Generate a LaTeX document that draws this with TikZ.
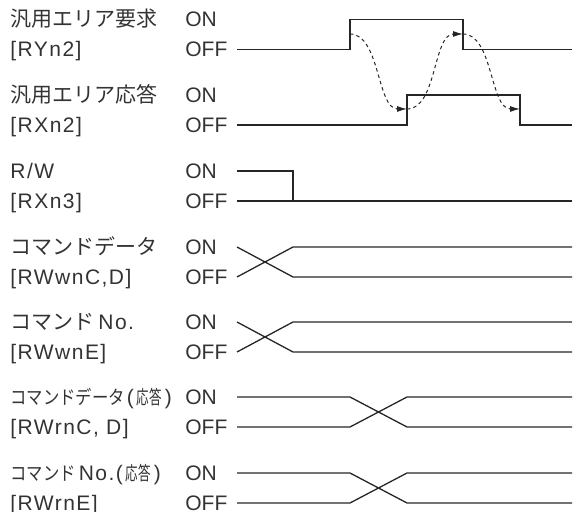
\documentclass[tikz,border=0pt]{standalone}
\usepackage{fontspec}
\usepackage{graphicx}
\setmainfont{Liberation Sans}
\newfontfamily\labelfont{Liberation Sans}[LetterSpace=7]
\newfontfamily\jpfont{Noto Sans CJK JP}
\newcommand\jpn{\jpfont\fontsize{10.5}{12}\selectfont}
\newcommand\jps{\jpfont\fontsize{9.5}{11}\selectfont}
\newcommand\narrowjp[2]{\scalebox{#1}[1]{\jps #2}}
\usetikzlibrary{arrows.meta}

\begin{document}
\begin{tikzpicture}[
  x=0.5pt, y=-0.5pt,
  >={Latex[length=5pt,width=3pt]},
  sig/.style={line width=0.65pt, black!85},
  handshake/.style={->, dash pattern=on 1.7pt off 1.6pt, line width=0.5pt, black!85},
  signame/.style={anchor=base west, inner sep=0pt, text=black!80, font=\labelfont\fontsize{10.5}{12}\selectfont},
  levelname/.style={anchor=base west, inner sep=0pt, text=black!80, font=\fontsize{10.5}{12}\selectfont},
]
\useasboundingbox (0,0) rectangle (573,512);

\foreach \row/\yon/\toptext/\bottomtext in {
  A/19.5/{\jpn 汎用エリア要求}/{[RYn2]},
  B/95/{\jpn 汎用エリア応答}/{[RXn2]},
  C/171/{R/W}/{[RXn3]},
  D/247/{\jpn コマンドデータ}/{[RWwnC,D]},
  E/322/{{\jpn コマンド}\kern2pt No.}/{[RWwnE]},
  F/397/{\narrowjp{0.86}{コマンドデータ}\kern1pt(\kern1.5pt\narrowjp{0.66}{応答}\kern1.5pt)}/{[RWrnC, D]},
  G/473/{\narrowjp{0.86}{コマンド}\kern1.5pt No.(\kern1.5pt\narrowjp{0.66}{応答}\kern1.5pt)}/{[RWrnE]}
}{
  \node[signame]   (top\row) at (10,\yon+7.5)  {\toptext};
  \node[signame]   (bot\row) at (10,\yon+37.5) {\bottomtext};
  \node[levelname] (on\row)  at (185,\yon+7.5)  {ON};
  \node[levelname] (off\row) at (185,\yon+37.5) {OFF};
}

% request / answer handshake
\draw[sig] (237,49.5) -- (350,49.5) -- (350,19.5) -- (463,19.5) -- (463,49.5) -- (572,49.5);
\draw[sig] (237,125) -- (407,125) -- (407,95) -- (520,95) -- (520,125) -- (572,125);

\coordinate (reqrise) at (350,34);
\coordinate (ansrise) at (407,109);
\coordinate (reqfall) at (463,34);
\coordinate (ansfall) at (520,109);
\draw[handshake] (reqrise) .. controls +(30,0) and +(-30,0) .. (ansrise);
\draw[handshake] (ansrise) .. controls +(30,0) and +(-30,0) .. (reqfall);
\draw[handshake] (reqfall) .. controls +(30,0) and +(-30,0) .. (ansfall);

% R/W
\draw[sig] (237,171) -- (293,171) -- (293,201) -- (572,201);
\draw[sig] (237,201) -- (293,201);

% data lines
\foreach \yon in {247,322}{
  \draw[sig] (237,\yon) -- (293,\yon+30) -- (572,\yon+30);
  \draw[sig] (237,\yon+30) -- (293,\yon) -- (572,\yon);
}
\foreach \yon in {397,473}{
  \draw[sig] (237,\yon) -- (350,\yon) -- (407,\yon+30) -- (572,\yon+30);
  \draw[sig] (237,\yon+30) -- (350,\yon+30) -- (407,\yon) -- (572,\yon);
}

\end{tikzpicture}
\end{document}
